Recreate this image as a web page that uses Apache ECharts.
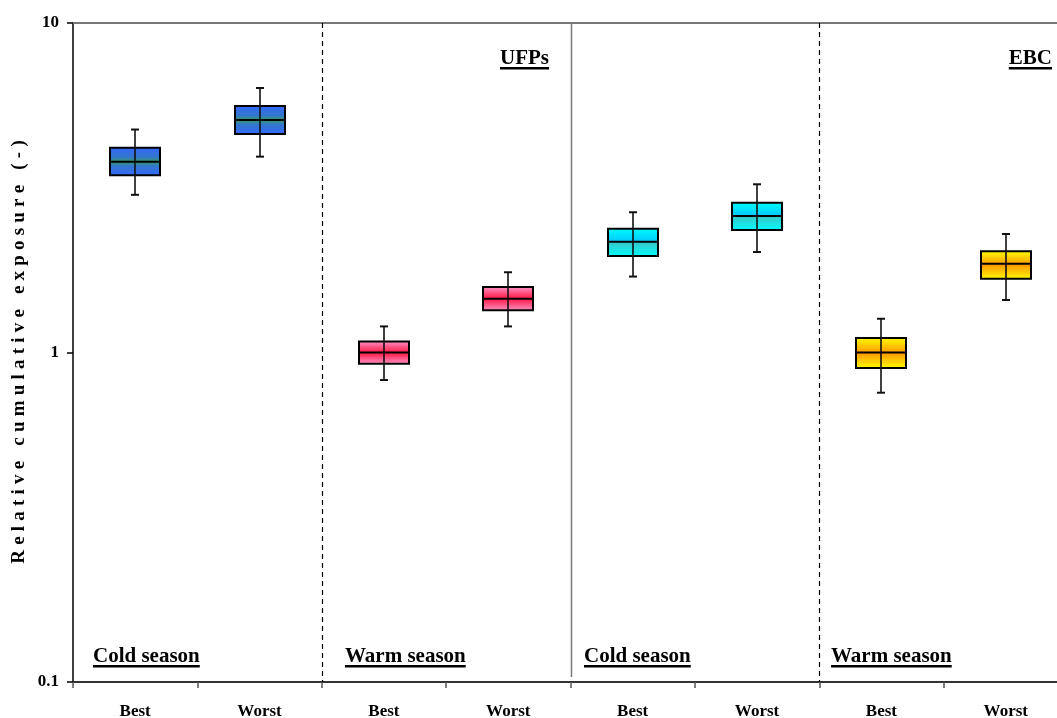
<!DOCTYPE html>
<html>
<head>
<meta charset="utf-8">
<script src="https://cdn.jsdelivr.net/npm/echarts@6/dist/echarts.min.js"></script>
<style>
html,body{margin:0;padding:0;background:#fff;}
#chart{width:1057px;height:718px;}
</style>
</head>
<body>
<div id="chart"></div>
<script>
// ---- data ----
var categories = ['Best', 'Worst', 'Best', 'Worst', 'Best', 'Worst', 'Best', 'Worst'];
// [low whisker, Q1, median, Q3, high whisker]
var ufpCold = [[3.01, 3.45, 3.79, 4.18, 4.75], [3.93, 4.60, 5.08, 5.60, 6.35]];
var ufpWarm = [[0.825, 0.925, 1.00, 1.08, 1.20], [1.20, 1.343, 1.457, 1.58, 1.752]];
var ebcCold = [[1.70, 1.963, 2.17, 2.376, 2.665], [2.018, 2.354, 2.596, 2.85, 3.24]];
var ebcWarm = [[0.755, 0.897, 1.00, 1.107, 1.266], [1.443, 1.675, 1.86, 2.028, 2.289]];
var yTicks = [0.1, 1, 10];
var panelLabels = ['Cold season', 'Warm season', 'Cold season', 'Warm season'];
var pollutantLabels = ['UFPs', 'EBC'];
var yTitle = 'Relative cumulative exposure (-)';

// ---- styles ----
var FONT = '"Liberation Serif", "Times New Roman", serif';
var gradients = [
  [[0, '#3366FF'], [0.35, '#3377CC'], [0.5, '#339966'], [0.65, '#3377CC'], [1, '#3366FF']],
  [[0, '#FF99CC'], [0.5, '#FF1744'], [1, '#FF99CC']],
  [[0, '#00FFFF'], [0.45, '#00CCFF'], [0.55, '#33CCCC'], [1, '#00FFFF']],
  [[0, '#FFFF00'], [0.5, '#FF9900'], [1, '#FFFF00']]
];

var groups = [ufpCold, ufpWarm, ebcCold, ebcWarm];
var boxData = [];
groups.forEach(function (g, gi) {
  g.forEach(function (b, bi) {
    boxData.push([gi * 2 + bi].concat(b).concat([gi]));
  });
});

function renderBox(params, api) {
  var x = api.value(0);
  var low = api.coord([x, api.value(1)]);
  var q1 = api.coord([x, api.value(2)]);
  var med = api.coord([x, api.value(3)]);
  var q3 = api.coord([x, api.value(4)]);
  var high = api.coord([x, api.value(5)]);
  var gi = api.value(6);
  var cx = Math.round(low[0]);
  var hw = 25, cap = 4;
  var stops = gradients[gi].map(function (s) { return { offset: s[0], color: s[1] }; });
  return {
    type: 'group',
    children: [
      { type: 'rect', shape: { x: cx - hw, y: q3[1], width: hw * 2, height: q1[1] - q3[1] },
        style: { fill: new echarts.graphic.LinearGradient(0, 0, 0, 1, stops), stroke: '#000', lineWidth: 2 } },
      { type: 'line', shape: { x1: cx, y1: high[1], x2: cx, y2: low[1] }, style: { stroke: '#111', lineWidth: 1.6 } },
      { type: 'line', shape: { x1: cx - cap, y1: high[1], x2: cx + cap, y2: high[1] }, style: { stroke: '#111', lineWidth: 2 } },
      { type: 'line', shape: { x1: cx - cap, y1: low[1], x2: cx + cap, y2: low[1] }, style: { stroke: '#111', lineWidth: 2 } },
      { type: 'line', shape: { x1: cx - hw, y1: med[1], x2: cx + hw, y2: med[1] }, style: { stroke: '#000', lineWidth: 2 } }
    ]
  };
}

var separators = [[2, 'dashed'], [4, 'solid'], [6, 'dashed']];
function renderSep(params, api) {
  var x = api.value(0);
  var top = api.coord([x, 10]);
  var bot = api.coord([x, 0.1]);
  var solid = separators[params.dataIndex][1] === 'solid';
  return {
    type: 'line',
    shape: { x1: Math.round(top[0]) + 0.5, y1: top[1], x2: Math.round(top[0]) + 0.5, y2: solid ? bot[1] - 5 : bot[1] },
    style: solid ? { stroke: '#777', lineWidth: 1.5 } : { stroke: '#000', lineWidth: 1.2, lineDash: [5, 4] }
  };
}

var chart = echarts.init(document.getElementById('chart'));
var option = {
  backgroundColor: '#fff',
  animation: false,
  grid: { left: 73, right: -11, top: 23, bottom: 36, containLabel: false, outerBoundsMode: 'none' },
  xAxis: [
    {
      type: 'category', data: categories, boundaryGap: true,
      axisLine: { lineStyle: { color: '#333', width: 2 } },
      axisTick: { show: true, length: 6, lineStyle: { color: '#555', width: 1.5 } },
      axisLabel: { color: '#000', fontFamily: FONT, fontWeight: 'bold', fontSize: 17, margin: 21 },
      splitLine: { show: false }
    },
    {
      type: 'value', min: 0, max: 8, position: 'top',
      axisLine: { show: true, lineStyle: { color: '#777', width: 2 } },
      axisTick: { show: false }, axisLabel: { show: false }, splitLine: { show: false }
    }
  ],
  yAxis: {
    type: 'log', logBase: 10, min: yTicks[0], max: yTicks[yTicks.length - 1],
    axisLine: { show: true, lineStyle: { color: '#000', width: 1.5 } },
    axisTick: { show: true, length: 6, lineStyle: { color: '#000', width: 1.5 } },
    minorTick: { show: false },
    axisLabel: { color: '#000', fontFamily: FONT, fontWeight: 'bold', fontSize: 17, margin: 14,
      formatter: function (v) { return String(+v.toPrecision(3)); } },
    splitLine: { show: false }
  },
  series: [
    { type: 'custom', xAxisIndex: 1, yAxisIndex: 0, data: separators.map(function (s) { return [s[0]]; }), renderItem: renderSep, silent: true, z: 1 },
    { type: 'custom', xAxisIndex: 0, yAxisIndex: 0, data: boxData, renderItem: renderBox, z: 5,
      encode: { x: 0, y: [1, 2, 3, 4, 5] } }
  ]
};
chart.setOption(option);

// ---- annotations (underlined bold text) ----
var ctx = document.createElement('canvas').getContext('2d');
function textW(t, size) {
  ctx.font = 'bold ' + size + 'px "Liberation Serif"';
  return ctx.measureText(t).width;
}
function underlined(t, x, baseline, align) {
  var size = 21;
  var w = textW(t, size);
  var left = align === 'right' ? x - w : x;
  return [
    { type: 'text', left: left, top: baseline - 17, z: 10,
      style: { text: t, font: 'bold ' + size + 'px ' + FONT, fill: '#000' } },
    { type: 'rect', z: 10, shape: { x: left, y: baseline + 2, width: w, height: 2.5 }, style: { fill: '#000' } }
  ];
}
var gfx = [];
var panelLeft = [93, 345, 584, 831];
panelLabels.forEach(function (t, i) { gfx = gfx.concat(underlined(t, panelLeft[i], 663, 'left')); });
var polRight = [549, 1052];
pollutantLabels.forEach(function (t, i) { gfx = gfx.concat(underlined(t, polRight[i], 65, 'right')); });

// y-axis title: rotated, letter-spaced to span the same length as the reference
var tSize = 19, spacing = 5.2;
var chars = yTitle.split('');
var widths = chars.map(function (c) { return textW(c, tSize); });
var total = widths.reduce(function (a, b) { return a + b; }, 0) + spacing * (chars.length - 1);
var titleChildren = [];
var cur = -total / 2;
chars.forEach(function (c, i) {
  titleChildren.push({ type: 'text', x: cur, y: 0,
    style: { text: c, font: 'bold ' + tSize + 'px ' + FONT, fill: '#000', verticalAlign: 'middle', align: 'left' } });
  cur += widths[i] + spacing;
});
gfx.push({ type: 'group', x: 19, y: 352, rotation: Math.PI / 2, children: titleChildren, z: 10 });
chart.setOption({ graphic: gfx });
</script>
</body>
</html>
